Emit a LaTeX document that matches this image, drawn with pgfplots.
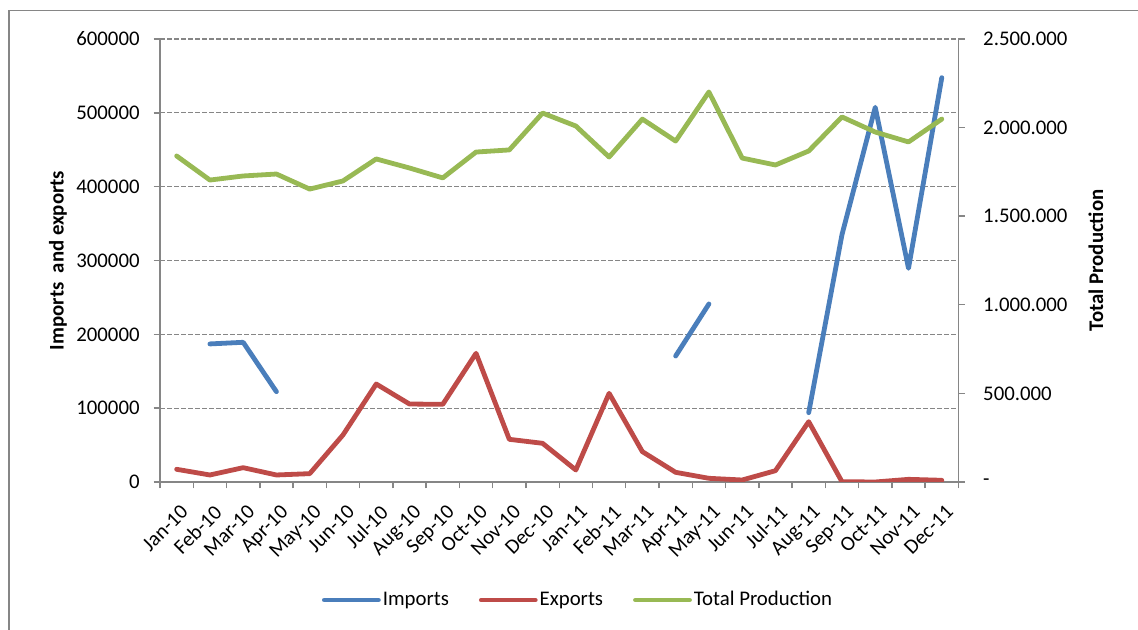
\documentclass[border=0pt]{standalone}
\usepackage{pgfplots}
\pgfplotsset{compat=1.18}
\usepackage{pgfplotstable}
\usepackage{fontspec}
\setmainfont{Carlito}

\definecolor{impblue}{HTML}{4A7EBB}
\definecolor{expred}{HTML}{BE4B48}
\definecolor{prodgreen}{HTML}{98B954}
\definecolor{axisgray}{HTML}{868686}

% month index, imports, exports (left axis), total production (right axis)
\pgfplotstableread{
i  imp     exp     prod
0  nan     17200   1840000
1  187000  9500    1704000
2  189200  19400   1727000
3  122300  9500    1738000
4  nan     11300   1653000
5  nan     63700   1699000
6  nan     132700  1823000
7  nan     105600  1772000
8  nan     105200  1716000
9  nan     174300  1862000
10 nan     57800   1874000
11 nan     52400   2082000
12 nan     16300   2009000
13 nan     120100  1834000
14 nan     41100   2048000
15 170650  13100   1924000
16 241100  5000    2201000
17 nan     2700    1828000
18 nan     15300   1789000
19 93900   81700   1868000
20 335000  400     2060000
21 507500  0       1975000
22 289400  3600    1919000
23 547600  2300    2048000
}\monthly

\newcommand{\chartfont}{\fontsize{10.4}{12.5}\selectfont}

\pgfplotsset{
  common/.style={
    scale only axis, width=399.2pt, height=221.5pt,
    at={(80pt,74pt)}, anchor=south west,
    xmin=-0.5, xmax=23.5,
    tick align=outside,
    major tick length=3.2pt, minor tick length=3.2pt,
    tick style={axisgray, line width=0.7pt},
    axis line style={axisgray, line width=0.8pt},
    tick label style={font=\chartfont, text=black},
    scaled y ticks=false,
    unbounded coords=jump,
  },
  series/.style={line width=2.4pt, line cap=round, line join=round},
}

\begin{document}
\chartfont
\begin{tikzpicture}
\useasboundingbox (0,0) rectangle (569pt,315pt);
\draw[axisgray, line width=0.7pt] (4.5pt,0pt) -- (4.5pt,309.75pt) -- (569pt,309.75pt);

\begin{axis}[common,
  ymin=0, ymax=600000,
  ytick={0,100000,200000,300000,400000,500000,600000},
  yticklabels={0,100000,200000,300000,400000,500000,600000},
  yticklabel style={anchor=east, inner sep=0pt, xshift=-6.8pt},
  axis x line*=bottom, axis y line*=left,
  xtick={0,...,23},
  xticklabels={Jan-10,Feb-10,Mar-10,Apr-10,May-10,Jun-10,Jul-10,Aug-10,Sep-10,Oct-10,Nov-10,Dec-10,
               Jan-11,Feb-11,Mar-11,Apr-11,May-11,Jun-11,Jul-11,Aug-11,Sep-11,Oct-11,Nov-11,Dec-11},
  major x tick style={draw=none},
  minor xtick={-0.5,0.5,...,23.5},
  xticklabel style={xshift=1.5pt, yshift=-7.5pt, rotate=45, anchor=north east, inner sep=0pt},
  ymajorgrids,
  major grid style={axisgray, line width=0.65pt, dash pattern=on 2.3pt off 1.2pt},
  ylabel={Imports~ and exports},
  every axis y label/.style={at={(rel axis cs:-0.1278,0.5)}, rotate=90, anchor=center,
    font=\chartfont\bfseries, text=black},
]
\addplot[series, impblue] table[x=i, y=imp] {\monthly};
\addplot[series, expred] table[x=i, y=exp] {\monthly};
\end{axis}

\begin{axis}[common,
  ymin=0, ymax=2500000,
  ytick={0,500000,1000000,1500000,2000000,2500000},
  yticklabels={-,500.000,1.000.000,1.500.000,2.000.000,2.500.000},
  yticklabel style={anchor=west, inner sep=0pt, xshift=9pt},
  axis y line*=right, axis x line=none,
  ylabel={Total Production},
  every axis y label/.style={at={(rel axis cs:1.1723,0.5)}, rotate=90, anchor=center,
    font=\chartfont\bfseries, text=black},
  legend columns=3,
  legend style={at={(rel axis cs:0.5236,-0.2664)}, anchor=center, draw=none, fill=none,
    font=\chartfont, inner sep=0pt,
    nodes={inner sep=1pt},
    /tikz/every even column/.append style={column sep=14pt}},
  legend image code/.code={\draw[#1] (0pt,0pt) -- (27pt,0pt);},
]
\addlegendimage{series, impblue}
\addlegendentry{Imports}
\addlegendimage{series, expred}
\addlegendentry{Exports}
\addplot[series, prodgreen] table[x=i, y=prod] {\monthly};
\addlegendentry{Total Production}
\end{axis}
\end{tikzpicture}
\end{document}
